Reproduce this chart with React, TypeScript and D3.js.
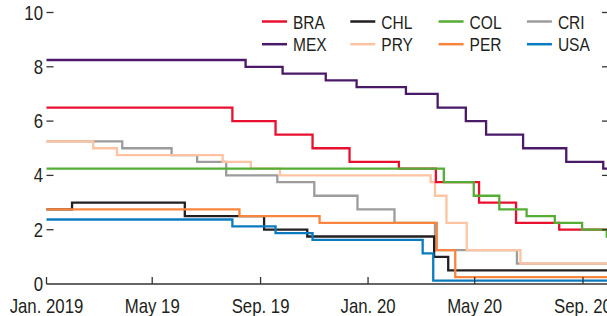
import React from 'react';
import * as d3 from 'd3';

// policy rates, percent: [date of change, new rate]
const BRA: [string, number][] = [["2019-01-01", 6.5], ["2019-07-31", 6.0], ["2019-09-18", 5.5], ["2019-10-30", 5.0], ["2019-12-11", 4.5], ["2020-02-05", 4.25], ["2020-03-18", 3.75], ["2020-05-06", 3.0], ["2020-06-17", 2.25], ["2020-08-05", 2.0]];
const MEX: [string, number][] = [["2019-01-01", 8.25], ["2019-08-15", 8.0], ["2019-09-26", 7.75], ["2019-11-14", 7.5], ["2019-12-19", 7.25], ["2020-02-13", 7.0], ["2020-03-20", 6.5], ["2020-04-21", 6.0], ["2020-05-14", 5.5], ["2020-06-25", 5.0], ["2020-08-13", 4.5], ["2020-09-24", 4.25]];
const CHL: [string, number][] = [["2019-01-01", 2.75], ["2019-01-30", 3.0], ["2019-06-07", 2.5], ["2019-09-05", 2.0], ["2019-10-24", 1.75], ["2020-03-16", 1.0], ["2020-04-01", 0.5]];
const COL: [string, number][] = [["2019-01-01", 4.25], ["2020-03-27", 3.75], ["2020-04-30", 3.25], ["2020-05-29", 2.75], ["2020-06-29", 2.5], ["2020-07-31", 2.25], ["2020-08-31", 2.0], ["2020-09-28", 1.75]];
const CRI: [string, number][] = [["2019-01-01", 5.25], ["2019-03-28", 5.0], ["2019-05-23", 4.75], ["2019-06-21", 4.5], ["2019-07-24", 4.0], ["2019-09-20", 3.75], ["2019-11-01", 3.25], ["2019-12-20", 2.75], ["2020-01-31", 2.25], ["2020-03-17", 1.25], ["2020-06-18", 0.75]];
const PRY: [string, number][] = [["2019-01-01", 5.25], ["2019-02-23", 5.0], ["2019-03-22", 4.75], ["2019-07-20", 4.5], ["2019-08-21", 4.25], ["2019-09-23", 4.0], ["2020-03-12", 3.75], ["2020-03-17", 3.25], ["2020-03-30", 2.25], ["2020-04-22", 1.25], ["2020-06-22", 0.75]];
const PER: [string, number][] = [["2019-01-01", 2.75], ["2019-08-08", 2.5], ["2019-11-07", 2.25], ["2020-03-19", 1.25], ["2020-04-09", 0.25]];
const USA: [string, number][] = [["2019-01-01", 2.375], ["2019-07-31", 2.125], ["2019-09-18", 1.875], ["2019-10-30", 1.625], ["2020-03-03", 1.125], ["2020-03-15", 0.125]];

const END_DATE = "2020-10-05";

const legendRows = [["BRA", "CHL", "COL", "CRI"], ["MEX", "PRY", "PER", "USA"]];
const yTicks = [0, 2, 4, 6, 8, 10];
const xTickLabels = ["Jan. 2019", "May 19", "Sep. 19", "Jan. 20", "May 20", "Sep. 20"];

const colors: Record<string, string> = {
  BRA: "#e8102e",
  MEX: "#4a1a68",
  CHL: "#231f20",
  COL: "#56ad35",
  CRI: "#9c9c9c",
  PRY: "#fdc3a2",
  PER: "#f7853f",
  USA: "#0b7bbf",
};

const series: Record<string, [string, number][]> = { BRA, MEX, CHL, COL, CRI, PRY, PER, USA };
// drawing order (later on top)
const drawOrder = ["CRI", "PRY", "CHL", "PER", "USA", "BRA", "COL", "MEX"];

const W = 607, H = 316;
const font = "'Liberation Sans', Arial, sans-serif";
const SQ = 0.84; // squeeze text horizontally to mimic a condensed face

function CText(props: { x: number; y: number; size: number; anchor?: string; children: React.ReactNode }) {
  return (
    <text transform={`translate(${props.x},${props.y}) scale(${SQ},1)`} textAnchor={props.anchor || "start"}
      fontSize={props.size} fill="#231f20">{props.children}</text>
  );
}

export default function App() {
  const parse = d3.utcParse("%Y-%m-%d");
  const x = d3.scaleUtc()
    .domain([parse("2019-01-01")!, parse("2020-09-01")!])
    .range([46.5, 583]);
  const y = d3.scaleLinear().domain([0, 10]).range([284, 12.5]);

  const line = d3.line<[Date, number]>()
    .x(d => x(d[0]))
    .y(d => y(d[1]))
    .curve(d3.curveStepAfter);

  const xTicks = x.ticks(d3.utcMonth.every(4)!);
  const axisLeft = 46.5, axisRight = 609;

  return (
    <svg width={W} height={H} style={{ position: 'absolute', left: 0, top: 0, fontFamily: font }}>
      <g>
        {drawOrder.map(k => {
          const pts: [Date, number][] = series[k].map(d => [parse(d[0])!, d[1]]);
          pts.push([parse(END_DATE)!, series[k][series[k].length - 1][1]]);
          return <path key={k} d={line(pts) || ""} fill="none" stroke={colors[k]} strokeWidth={2.3} />;
        })}
      </g>

      {/* x axis */}
      <line x1={axisLeft} x2={W} y1={y(0)} y2={y(0)} stroke="#333" strokeWidth={1.3} />
      {xTicks.map((t, i) => (
        <g key={i}>
          <line x1={x(t)} x2={x(t)} y1={y(0)} y2={y(0) - 7} stroke="#333" strokeWidth={1.3} />
          <CText x={x(t)} y={313} size={20} anchor="middle">{xTickLabels[i]}</CText>
        </g>
      ))}

      {/* y ticks, left and right */}
      {yTicks.map(v => (
        <g key={v}>
          {v > 0 && <line x1={axisLeft} x2={axisLeft + 7} y1={y(v)} y2={y(v)} stroke="#333" strokeWidth={1.3} />}
          {v > 0 && <line x1={axisRight - 7} x2={axisRight} y1={y(v)} y2={y(v)} stroke="#333" strokeWidth={1.3} />}
          <CText x={43} y={y(v) + 7} size={20} anchor="end">{v}</CText>
        </g>
      ))}

      {/* legend */}
      {legendRows.map((row, r) => row.map((k, c) => {
        const lx = 262 + c * 88.3;
        const ly = 21.5 + r * 22.7;
        return (
          <g key={k}>
            <line x1={lx} x2={lx + 25} y1={ly} y2={ly} stroke={colors[k]} strokeWidth={2.5} />
            <CText x={lx + 31} y={ly + 7} size={18.5}>{k}</CText>
          </g>
        );
      }))}
    </svg>
  );
}
